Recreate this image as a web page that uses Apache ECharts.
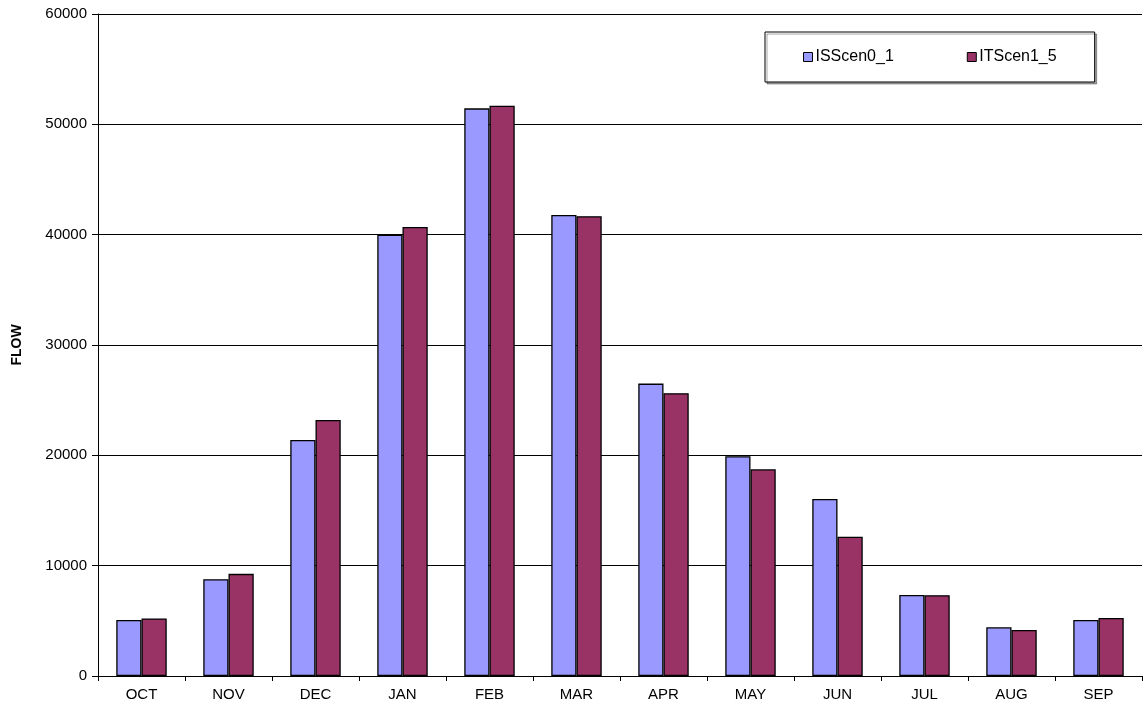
<!DOCTYPE html>
<html>
<head>
<meta charset="utf-8">
<script src="https://cdn.jsdelivr.net/npm/echarts@6/dist/echarts.min.js"></script>
<style>html,body{margin:0;padding:0;background:#fff;}#c{width:1146px;height:714px;}</style>
</head>
<body>
<div id="c"></div>
<script>
const categories = ['OCT','NOV','DEC','JAN','FEB','MAR','APR','MAY','JUN','JUL','AUG','SEP'];
const isScen0_1 = [5080, 8780, 21400, 40000, 51450, 41780, 26500, 19920, 16050, 7350, 4420, 5080];
const itScen1_5 = [5220, 9260, 23200, 40700, 51680, 41680, 25630, 18740, 12630, 7330, 4170, 5260];
const yTicks = [0, 10000, 20000, 30000, 40000, 50000, 60000];

const chart = echarts.init(document.getElementById('c'), null, {renderer: 'canvas'});
const font = 'Liberation Sans, Arial, sans-serif';
chart.setOption({
  animation: false,
  backgroundColor: '#fff',
  textStyle: {fontFamily: font},
  grid: {left: 98, right: 4, top: 14, bottom: 38, containLabel: false, outerBoundsMode: 'none'},
  legend: {
    left: 765, top: 32,
    padding: [17, 38, 17, 38],
    itemGap: 73,
    itemWidth: 9, itemHeight: 9,
    borderColor: '#000', borderWidth: 1,
    backgroundColor: '#fff',
    shadowColor: 'rgba(0,0,0,0.35)', shadowOffsetX: 2, shadowOffsetY: 2, shadowBlur: 0,
    textStyle: {fontSize: 16, color: '#000', fontFamily: font, padding: [0, 0, 0, -2]},
    data: [
      {name: 'ISScen0_1', icon: 'rect', itemStyle: {borderColor: '#000', borderWidth: 1}},
      {name: 'ITScen1_5', icon: 'rect', itemStyle: {borderColor: '#000', borderWidth: 1}}
    ]
  },
  xAxis: {
    type: 'category',
    data: categories,
    axisLine: {lineStyle: {color: '#000', width: 1}},
    axisTick: {show: true, alignWithLabel: false, length: 5, lineStyle: {color: '#000'}},
    axisLabel: {color: '#000', fontSize: 15, fontFamily: font, margin: 11}
  },
  yAxis: {
    type: 'value',
    min: yTicks[0], max: yTicks[yTicks.length - 1], interval: yTicks[1] - yTicks[0],
    name: 'FLOW',
    nameLocation: 'middle',
    nameGap: 74,
    nameRotate: 90,
    nameTextStyle: {fontWeight: 'bold', fontSize: 14, color: '#000', fontFamily: font},
    axisLine: {show: true, lineStyle: {color: '#000', width: 1}},
    axisTick: {show: true, length: 6, lineStyle: {color: '#000'}},
    axisLabel: {color: '#000', fontSize: 15, fontFamily: font, margin: 11, formatter: function (v) { return String(v); }},
    splitLine: {show: true, lineStyle: {color: '#000', width: 1}}
  },
  series: [
    {
      name: 'ISScen0_1', type: 'bar', data: isScen0_1,
      barGap: '0%', barCategoryGap: '42%',
      itemStyle: {color: '#9999FF', borderColor: '#000', borderWidth: 1.3}
    },
    {
      name: 'ITScen1_5', type: 'bar', data: itScen1_5,
      barGap: '0%', barCategoryGap: '42%',
      itemStyle: {color: '#993366', borderColor: '#000', borderWidth: 1.3}
    }
  ]
});
</script>
</body>
</html>
